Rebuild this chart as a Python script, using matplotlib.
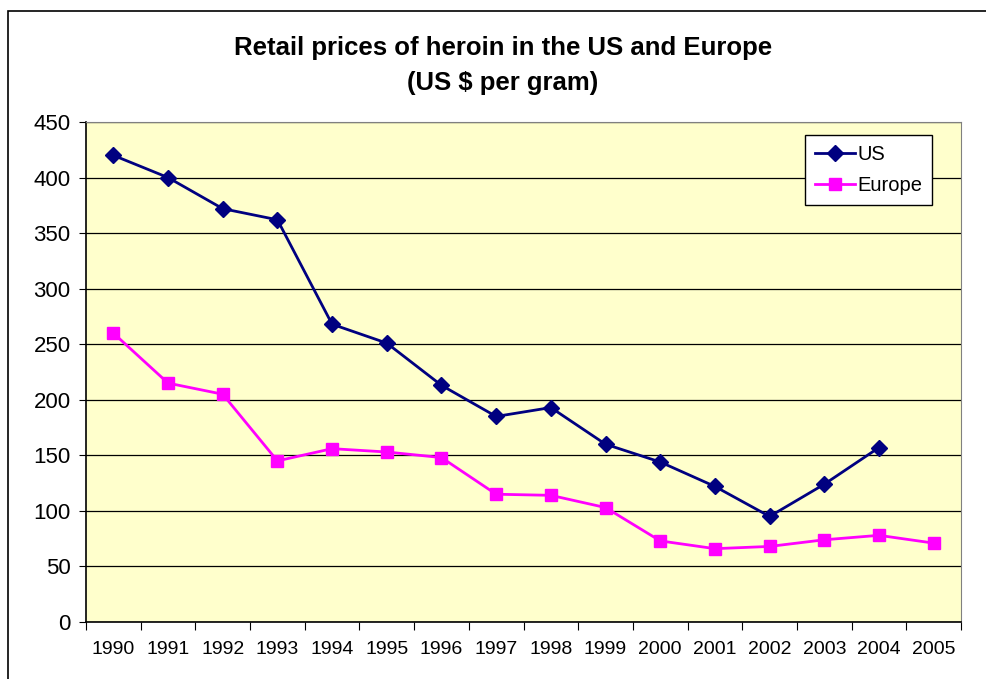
import matplotlib
matplotlib.use("Agg")
import matplotlib.pyplot as plt
from matplotlib.patches import Rectangle

plt.rcParams['font.family'] = ['Liberation Sans', 'DejaVu Sans']

# Datos
years = ["1990", "1991", "1992", "1993", "1994", "1995", "1996", "1997",
         "1998", "1999", "2000", "2001", "2002", "2003", "2004", "2005"]
us_prices = [420, 400, 372, 362, 268, 251, 213, 185, 193, 160, 144, 122, 95, 124, 157]
europe_prices = [260, 215, 205, 145, 156, 153, 148, 115, 114, 103, 73, 66, 68, 74, 78, 71]
y_ticks = [0, 50, 100, 150, 200, 250, 300, 350, 400, 450]

fig = plt.figure(figsize=(9.87, 6.79), dpi=100)
ax = fig.add_axes([86 / 987, 57 / 679, 875 / 987, 500 / 679])

# Marco exterior del gráfico
fig.patches.append(Rectangle((8 / 987, -0.1), 1.2, (679 - 11) / 679 + 0.1,
                             transform=fig.transFigure, fill=False,
                             edgecolor='black', linewidth=1.2))

ax.set_facecolor('#FFFFCC')
x_us = list(range(len(us_prices)))
x_eu = list(range(len(europe_prices)))
ax.plot(x_us, us_prices, color='#000080', linewidth=2, marker='D',
        markersize=8, label='US', zorder=3)
ax.plot(x_eu, europe_prices, color='#FF00FF', linewidth=2, marker='s',
        markersize=9, label='Europe', zorder=3)

ax.set_xlim(-0.5, len(years) - 0.5)
ax.set_ylim(0, 450)
ax.set_yticks(y_ticks)
ax.tick_params(axis='y', labelsize=16, length=5, direction='out', pad=6)
ax.yaxis.grid(True, color='black', linewidth=0.9)
ax.set_axisbelow(True)

# Marcas entre categorías, etiquetas centradas
ax.set_xticks([i - 0.5 for i in range(len(years) + 1)])
ax.set_xticklabels([])
ax.tick_params(axis='x', which='major', length=6, direction='out')
ax.set_xticks(range(len(years)), minor=True)
ax.set_xticklabels(years, minor=True)
ax.tick_params(axis='x', which='minor', length=0, labelsize=14, pad=14)

for s in ['top', 'right']:
    ax.spines[s].set_color('#808080')
for s in ['left', 'bottom']:
    ax.spines[s].set_color('black')
    ax.spines[s].set_linewidth(1.2)

fig.text(503 / 987, 1 - 48 / 679, "Retail prices of heroin in the US and Europe",
         ha='center', va='center', fontsize=18.5, fontweight='bold')
fig.text(503 / 987, 1 - 83 / 679, "(US $ per gram)",
         ha='center', va='center', fontsize=18.5, fontweight='bold')

leg = ax.legend(loc='upper right', bbox_to_anchor=(0.967, 0.974), fontsize=14.5,
                fancybox=False, framealpha=1, edgecolor='black',
                handlelength=2.0, handletextpad=0.1, borderpad=0.5,
                labelspacing=0.6, borderaxespad=0)
leg.get_frame().set_linewidth(1)

fig.savefig("out.png", dpi=100)
